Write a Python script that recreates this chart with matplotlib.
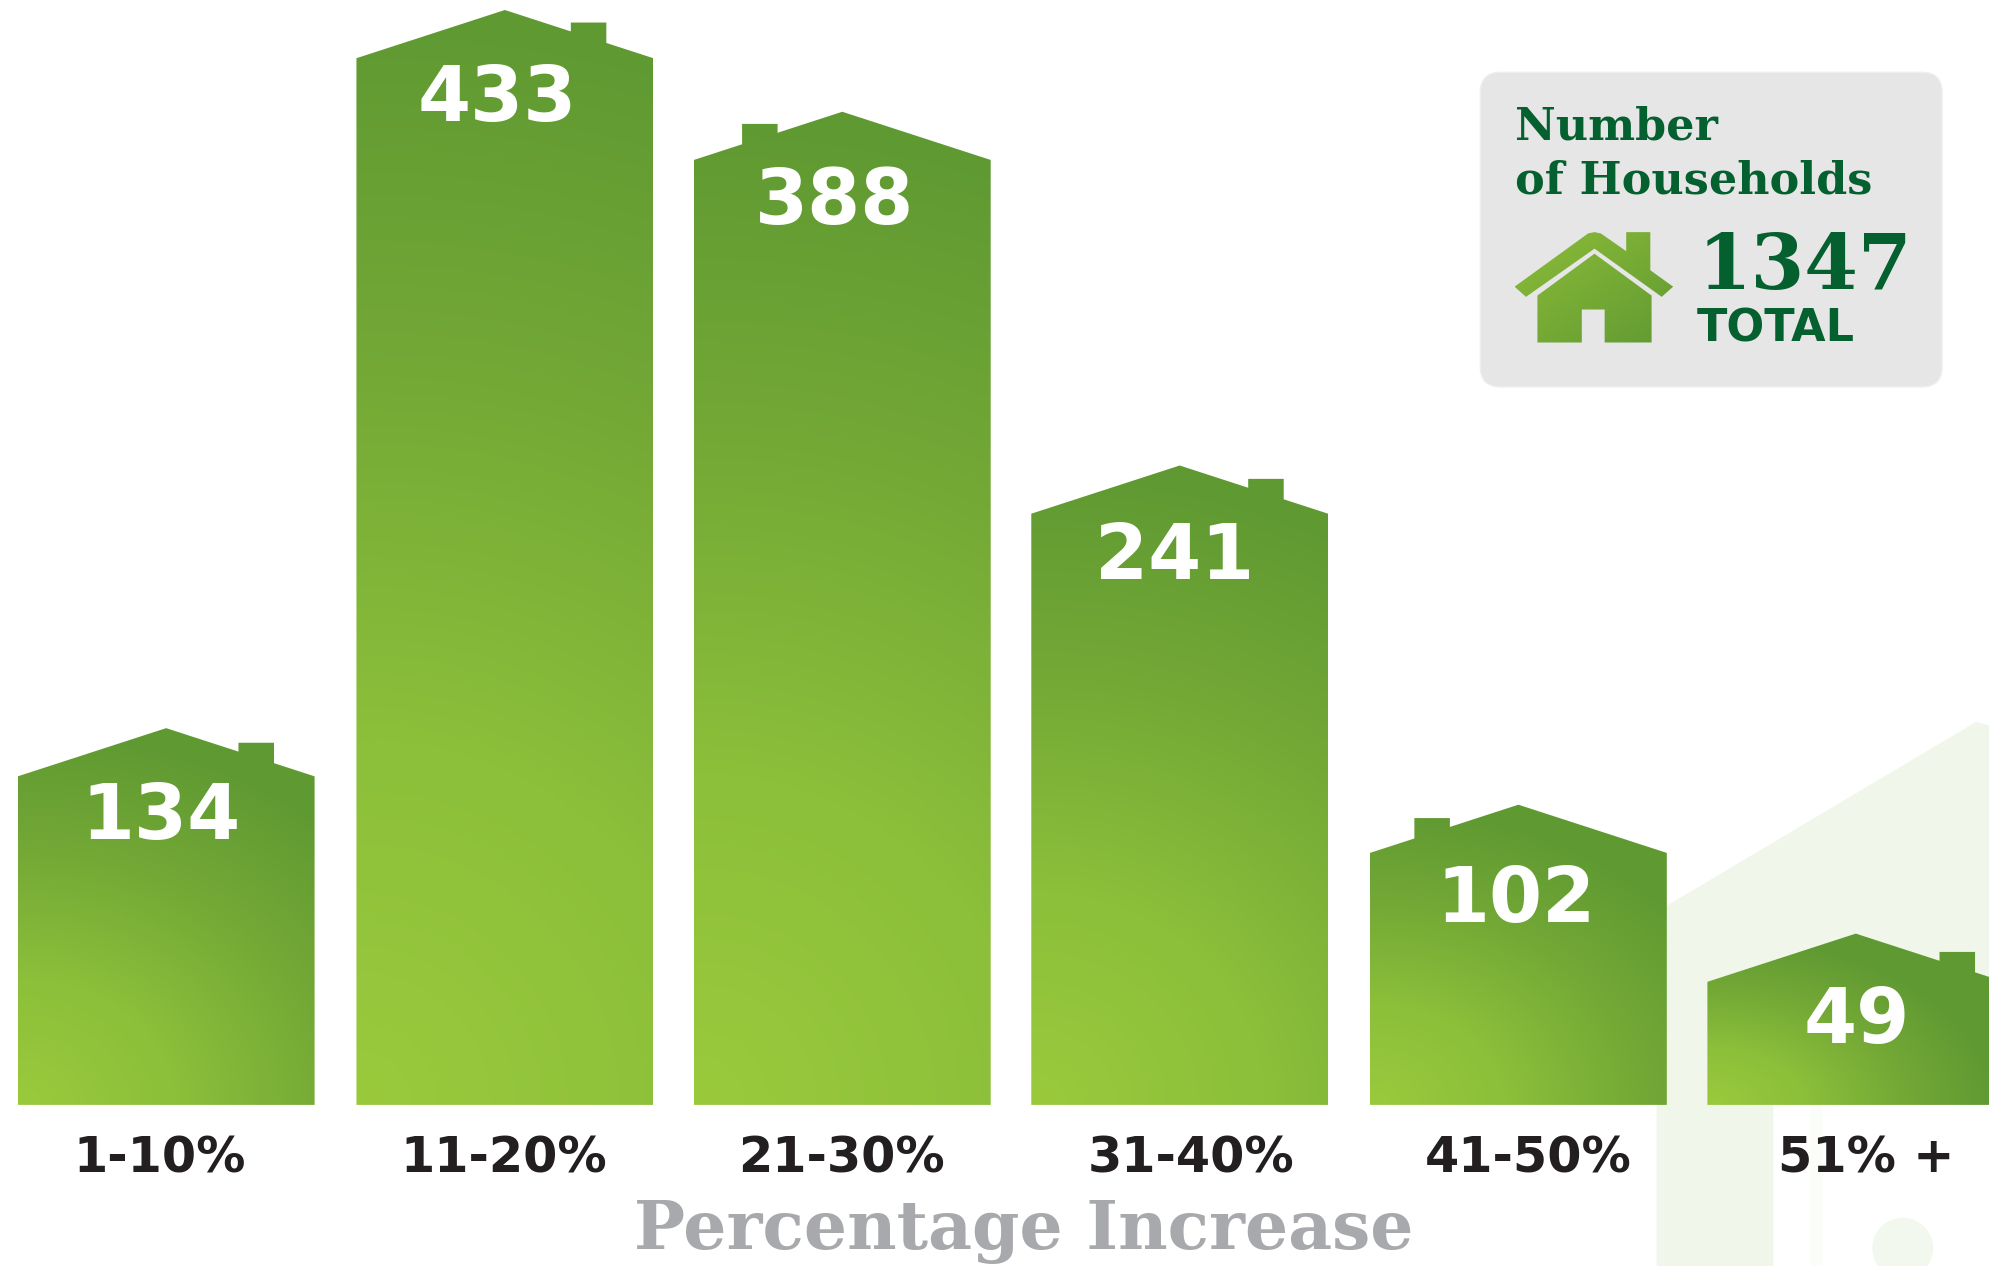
import matplotlib
matplotlib.use('Agg')
import matplotlib.pyplot as plt
import numpy as np
from matplotlib.colors import LinearSegmentedColormap
from matplotlib.patches import FancyBboxPatch, Polygon

categories = ['1-10%', '11-20%', '21-30%', '31-40%', '41-50%', '51% +']
households = [134, 433, 388, 241, 102, 49]
# wall heights as they stand in the picture, in household units
wall_heights = [135.6, 432, 390, 244, 104, 50.8]
total = 1347

W, H = 1989, 1266

green = LinearSegmentedColormap.from_list('house', ['#9aca3c', '#8cbf3a', '#74a936', '#5f9932'])
dark_green = '#04602f'

fig = plt.figure(figsize=(W / 100, H / 100), dpi=100)

# one full figure axes, units are pixels of the 1568 wide view
ax = fig.add_axes([0, 0, 1, 1])
ax.set_xlim(0, 1568)
ax.set_ylim(998, 0)
ax.axis('off')

base_y = 871
unit = 1.91
bar_w = 234
roof_h = 38
lefts = [14, 281, 547, 813, 1080, 1346]
chimney_off = [174, 169, 38, 171, 35, 183]


def gradient_fill(ax, patch, x0, y0, x1, y1, cx, cy, rx, ry):
    gx, gy = np.meshgrid(np.linspace(x0, x1, 300), np.linspace(y0, y1, 400))
    t = np.clip(np.hypot((gx - cx) / rx, (gy - cy) / ry), 0, 1)
    im = ax.imshow(t, extent=[x0, x1, y1, y0], cmap=green, vmin=0, vmax=1,
                   aspect='auto', zorder=3, interpolation='bilinear')
    ax.add_patch(patch)
    im.set_clip_path(patch)


# pale house in the background
pale = '#f0f6e9'
ax.add_patch(Polygon([(1306, 998), (1306, 718), (1314, 714), (1558, 569), (1568, 572), (1568, base_y),
                      (1398, base_y), (1398, 998)],
                     closed=True, fc=pale, ec='none', zorder=1))
ax.add_patch(plt.Rectangle((1427, base_y), 10, 127, fc='#fbfdf8', ec='none', zorder=1))
ax.add_patch(plt.Circle((1500, 984), 24, fc='#f3f8ee', ec='none', zorder=1))

for left, h, off in zip(lefts, wall_heights, chimney_off):
    eave = base_y - h * unit
    peak = eave - roof_h
    right = left + bar_w
    mid = left + bar_w / 2
    c0, c1 = left + off, left + off + 28

    def roof_y(x):
        if x < mid:
            return eave - roof_h * (x - left) / (mid - left)
        return peak + roof_h * (x - mid) / (right - mid)

    c_top = min(roof_y(c0), roof_y(c1)) - 7
    chimney = [(c0, roof_y(c0)), (c0, c_top), (c1, c_top), (c1, roof_y(c1))]
    pts = [(left, base_y), (left, eave)]
    if off < mid - left:
        pts += chimney + [(mid, peak)]
    else:
        pts += [(mid, peak)] + chimney
    pts += [(right, eave), (right, base_y)]
    patch = Polygon(pts, closed=True, fc='none', ec='none', transform=ax.transData)
    height = base_y - peak
    gradient_fill(ax, patch, left, peak - 10, right, base_y, left, base_y, 110 + 0.88 * height, height)

ax.set_xlim(0, 1568)
ax.set_ylim(998, 0)

num_x = [127, 392, 658, 926, 1195, 1464]
num_y = [645, 79, 160, 440, 710, 806]
for x, y, v in zip(num_x, num_y, households):
    ax.text(x, y, str(v), family='DejaVu Sans', fontweight='bold', color='white', zorder=5,
            ha='center', va='center', fontsize=55)

cat_x = [126, 397, 663, 939, 1205, 1471]
for x, c in zip(cat_x, categories):
    ax.text(x, 913, c, family='DejaVu Sans', fontweight='bold', color='#231f20',
            ha='center', va='center', fontsize=35.5, zorder=5)

ax.text(807, 971, 'Percentage Increase', family='DejaVu Serif', fontweight='bold', color='#a7a9ac',
        ha='center', va='center', fontsize=49, zorder=5)

# legend box
ax.add_patch(FancyBboxPatch((1179, 69), 340, 224, boxstyle='round,pad=12,rounding_size=16',
                            fc='#e6e6e6', ec='#eeeeee', lw=1, zorder=4))
ax.text(1194, 100, 'Number', family='DejaVu Serif', fontweight='bold', color=dark_green,
        ha='left', va='center', fontsize=32, zorder=5)
ax.text(1194, 143, 'of Households', family='DejaVu Serif', fontweight='bold', color=dark_green,
        ha='left', va='center', fontsize=32, zorder=5)
ax.text(1338, 211, str(total), family='DejaVu Serif', fontweight='bold', color=dark_green,
        ha='left', va='center', fontsize=55.5, zorder=5)
ax.text(1338, 259, 'TOTAL', family='DejaVu Sans', fontweight='bold', color=dark_green,
        ha='left', va='center', fontsize=32, zorder=5)

# small house icon
icon = LinearSegmentedColormap.from_list('icon', ['#8cbc38', '#619a32'])
roof = [(1194, 226), (1252, 184), (1257, 183), (1262, 184), (1282, 198), (1282, 183), (1301, 183), (1301, 213),
        (1319, 226), (1310, 234), (1257, 196), (1203, 234)]
body = [(1212, 270), (1212, 233), (1257, 200), (1302, 233), (1302, 270), (1265, 270), (1265, 244),
        (1247, 244), (1247, 270)]
for pts in (roof, body):
    patch = Polygon(pts, closed=True, fc='none', ec='none')
    gx, gy = np.meshgrid(np.linspace(1194, 1319, 200), np.linspace(182, 270, 200))
    t = np.clip(((gx - 1194) / 125 + (gy - 182) / 88) / 2, 0, 1)
    im = ax.imshow(t, extent=[1194, 1319, 270, 182], cmap=icon, aspect='auto', zorder=5)
    ax.add_patch(patch)
    im.set_clip_path(patch)

ax.set_xlim(0, 1568)
ax.set_ylim(998, 0)

plt.savefig('out.png', dpi=100)
plt.close()
